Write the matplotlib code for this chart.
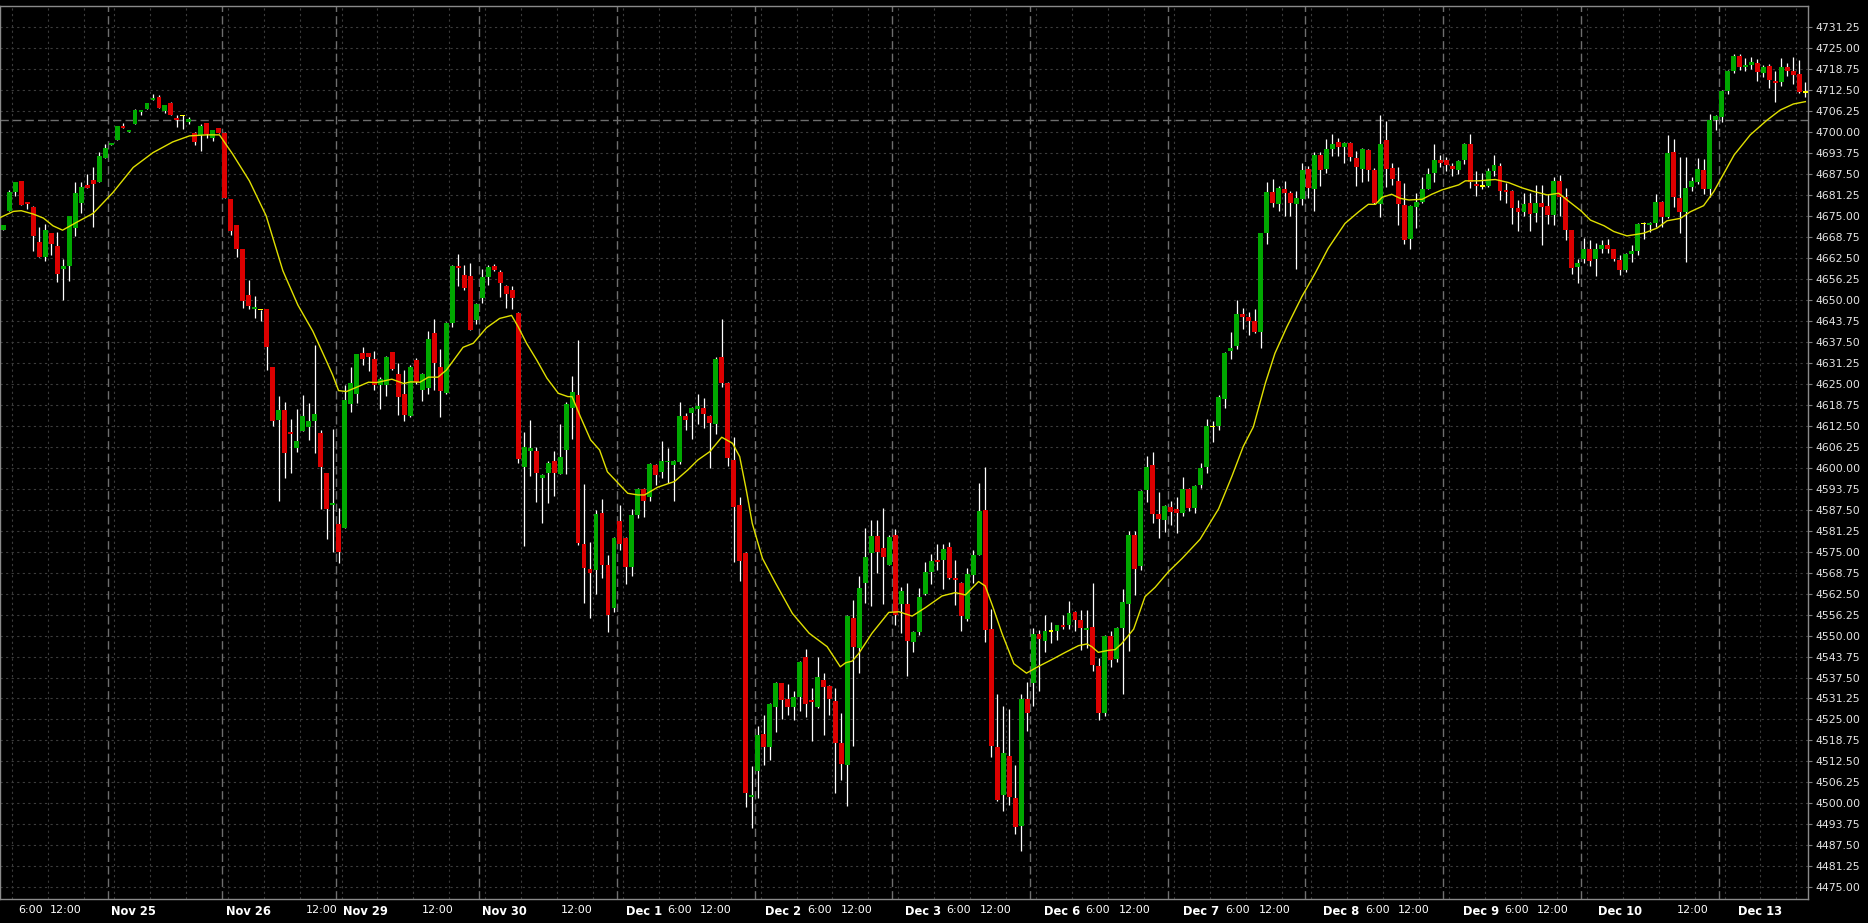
import matplotlib
matplotlib.use("Agg")
import matplotlib.pyplot as plt
from matplotlib.ticker import FormatStrFormatter
import numpy as np

# hourly OHLC bars, Nov 24 -> Dec 13
opens = [
    4670.9, 4676.4, 4682.3, 4685.5, 4679.3, 4677.8, 4667.4, 4662.9, 4670.0, 4666.2,
    4659.1, 4660.0, 4671.3, 4678.8, 4684.3, 4685.8, 4685.2, 4692.4, 4696.3, 4697.7,
    4701.8, 4700.1, 4702.5, 4706.1, 4707.0, 4709.6, 4710.6, 4706.4, 4708.7, 4704.3,
    4704.7, 4703.1, 4699.8, 4699.2, 4702.8, 4698.3, 4701.3, 4699.8, 4680.2, 4672.4,
    4665.3, 4651.6, 4647.4, 4646.9, 4647.3, 4630.0, 4614.2, 4617.2, 4610.7, 4606.0,
    4611.1, 4612.0, 4614.0, 4610.4, 4598.5, 4589.0, 4583.3, 4582.1, 4619.1, 4622.0,
    4634.1, 4634.1, 4632.3, 4624.8, 4624.6, 4634.4, 4627.9, 4621.9, 4615.5, 4632.1,
    4623.2, 4623.9, 4640.2, 4630.0, 4622.4, 4643.1, 4660.1, 4657.4, 4657.1, 4644.1,
    4650.7, 4656.8, 4660.1, 4658.3, 4654.2, 4653.0, 4646.1, 4600.3, 4605.1, 4605.0,
    4597.1, 4598.4, 4602.0, 4598.2, 4605.4, 4617.9, 4621.7, 4577.3, 4569.7, 4569.6,
    4586.5, 4571.0, 4558.3, 4584.0, 4579.1, 4570.5, 4585.9, 4593.7, 4591.2, 4600.8,
    4598.6, 4601.6, 4600.9, 4601.7, 4615.4, 4616.4, 4617.6, 4617.8, 4615.4, 4613.1,
    4632.9, 4625.2, 4602.3, 4588.8, 4574.6, 4502.0, 4509.7, 4520.7, 4516.9, 4528.8,
    4535.9, 4531.1, 4528.8, 4531.8, 4543.6, 4530.8, 4528.8, 4536.8, 4535.0, 4530.5,
    4517.9, 4511.5, 4555.2, 4546.4, 4565.8, 4574.7, 4579.8, 4576.1, 4571.1, 4580.0,
    4559.4, 4559.4, 4548.2, 4551.2, 4562.5, 4568.8, 4572.5, 4572.5, 4576.4, 4567.2,
    4565.6, 4555.0, 4568.0, 4574.1, 4587.4, 4551.9, 4516.9, 4502.6, 4514.0, 4501.7,
    4493.4, 4531.1, 4535.9, 4550.5, 4548.5, 4551.1, 4551.3, 4553.2, 4553.2, 4557.0,
    4554.5, 4551.8, 4552.7, 4540.9, 4526.8, 4549.8, 4543.0, 4552.2, 4559.3, 4580.0,
    4570.7, 4593.5, 4600.7, 4586.1, 4584.3, 4588.4, 4587.6, 4586.6, 4593.8, 4588.0,
    4594.9, 4600.3, 4612.0, 4612.3, 4620.5, 4634.8, 4636.3, 4645.9, 4644.8, 4643.7,
    4640.6, 4670.1, 4682.1, 4678.5, 4683.0, 4681.8, 4678.7, 4680.0, 4688.9, 4683.2,
    4693.2, 4688.9, 4695.1, 4697.1, 4695.7, 4696.8, 4692.2, 4689.1, 4694.6, 4688.7,
    4678.5, 4697.6, 4689.2, 4685.4, 4678.2, 4668.1, 4677.8, 4679.3, 4683.2, 4687.9,
    4691.7, 4691.7, 4689.9, 4688.7, 4691.7, 4696.4, 4684.6, 4683.8, 4684.0, 4688.5,
    4689.9, 4682.8, 4682.5, 4677.5, 4676.3, 4678.8, 4675.9, 4679.0, 4678.1, 4675.3,
    4685.5, 4680.8, 4670.9, 4659.8, 4662.2, 4665.1, 4662.1, 4665.2, 4666.4, 4665.1,
    4662.0, 4659.0, 4663.8, 4664.7, 4672.5, 4672.4, 4673.0, 4679.2, 4674.8, 4694.0,
    4680.4, 4676.3, 4683.6, 4685.2, 4688.8, 4683.2, 4703.6, 4704.5, 4712.3, 4718.3,
    4722.8, 4719.5, 4720.1, 4720.6, 4717.7, 4719.7, 4715.2, 4715.0, 4719.3, 4718.2,
    4717.3, 4711.7,
]
highs = [
    4672.4, 4682.7, 4685.2, 4685.5, 4679.3, 4678.1, 4671.8, 4672.6, 4670.0, 4670.4,
    4662.2, 4675.1, 4685.2, 4685.2, 4687.5, 4689.7, 4694.0, 4696.5, 4696.8, 4701.9,
    4702.6, 4700.7, 4707.0, 4706.6, 4708.7, 4711.4, 4711.0, 4708.1, 4709.0, 4705.2,
    4705.0, 4704.4, 4700.1, 4702.5, 4702.8, 4700.7, 4701.3, 4700.1, 4680.2, 4672.4,
    4665.3, 4656.1, 4651.3, 4646.9, 4647.3, 4630.0, 4621.4, 4619.6, 4614.5, 4617.5,
    4621.7, 4619.3, 4636.6, 4611.3, 4598.5, 4611.6, 4588.0, 4624.7, 4630.0, 4634.0,
    4636.0, 4634.2, 4634.8, 4627.0, 4633.3, 4634.6, 4631.1, 4629.0, 4630.5, 4632.6,
    4628.2, 4640.8, 4644.3, 4635.4, 4643.5, 4660.5, 4663.7, 4660.4, 4660.9, 4649.0,
    4659.2, 4660.4, 4660.7, 4658.8, 4654.5, 4654.2, 4646.4, 4610.6, 4614.2, 4606.3,
    4598.0, 4602.0, 4604.9, 4613.1, 4619.5, 4627.3, 4638.1, 4595.2, 4577.9, 4587.4,
    4590.8, 4574.0, 4579.5, 4588.8, 4579.5, 4587.7, 4594.0, 4594.0, 4601.3, 4601.0,
    4608.0, 4605.9, 4602.2, 4619.5, 4616.2, 4618.0, 4622.0, 4620.8, 4615.6, 4633.0,
    4644.4, 4625.5, 4609.1, 4591.2, 4575.0, 4511.2, 4523.0, 4526.3, 4530.0, 4536.3,
    4536.0, 4535.6, 4533.6, 4542.5, 4546.1, 4534.4, 4543.7, 4538.8, 4535.2, 4534.4,
    4526.8, 4556.0, 4560.6, 4567.6, 4582.1, 4584.4, 4584.4, 4588.0, 4580.0, 4581.7,
    4564.4, 4565.6, 4551.5, 4564.1, 4572.0, 4574.3, 4577.2, 4577.3, 4577.9, 4572.5,
    4566.0, 4570.0, 4575.6, 4595.4, 4600.1, 4558.0, 4532.7, 4529.1, 4528.2, 4511.4,
    4532.7, 4536.1, 4552.2, 4551.6, 4556.1, 4554.1, 4553.2, 4556.1, 4560.4, 4557.3,
    4557.6, 4557.6, 4565.6, 4543.3, 4550.2, 4551.5, 4552.5, 4563.8, 4581.2, 4581.2,
    4593.5, 4603.5, 4604.7, 4592.9, 4589.0, 4590.1, 4591.2, 4597.3, 4594.0, 4595.0,
    4601.5, 4614.4, 4614.0, 4621.8, 4634.5, 4640.5, 4649.9, 4647.7, 4646.5, 4647.2,
    4670.0, 4685.2, 4686.0, 4684.0, 4685.5, 4682.5, 4682.5, 4690.9, 4689.9, 4694.0,
    4694.2, 4698.0, 4699.5, 4698.2, 4697.2, 4697.0, 4694.4, 4695.2, 4695.0, 4689.2,
    4705.1, 4703.3, 4690.7, 4689.5, 4684.8, 4678.2, 4681.8, 4686.5, 4689.2, 4696.5,
    4693.2, 4692.5, 4690.7, 4691.7, 4696.9, 4699.5, 4688.5, 4687.7, 4689.4, 4693.2,
    4690.7, 4684.9, 4682.8, 4679.8, 4681.8, 4681.8, 4684.2, 4684.3, 4681.5, 4686.7,
    4687.2, 4683.5, 4671.0, 4662.1, 4668.6, 4667.9, 4667.1, 4667.9, 4668.1, 4665.2,
    4663.4, 4664.0, 4666.4, 4673.0, 4673.3, 4673.3, 4681.6, 4679.5, 4699.2, 4698.0,
    4692.7, 4692.7, 4686.7, 4692.2, 4691.9, 4705.4, 4705.0, 4712.5, 4718.5, 4723.3,
    4723.3, 4722.1, 4722.3, 4721.9, 4720.1, 4720.3, 4718.3, 4722.2, 4720.7, 4722.5,
    4721.5, 4715.0,
]
lows = [
    4670.9, 4676.4, 4681.1, 4678.4, 4677.1, 4664.7, 4662.9, 4661.7, 4663.5, 4655.3,
    4650.1, 4655.8, 4669.0, 4675.8, 4683.4, 4671.6, 4685.2, 4692.4, 4696.3, 4697.7,
    4701.3, 4700.1, 4702.5, 4705.2, 4707.0, 4709.6, 4707.2, 4705.8, 4705.2, 4701.6,
    4701.0, 4702.5, 4696.2, 4694.4, 4698.3, 4697.4, 4699.8, 4680.5, 4669.5, 4662.9,
    4647.7, 4647.4, 4644.5, 4643.6, 4629.1, 4612.5, 4590.1, 4597.1, 4598.5, 4604.8,
    4611.0, 4608.3, 4604.4, 4587.7, 4578.8, 4574.9, 4571.7, 4582.1, 4616.7, 4619.3,
    4630.6, 4628.9, 4623.2, 4617.6, 4621.4, 4629.0, 4615.7, 4614.0, 4615.0, 4625.0,
    4620.0, 4622.0, 4623.1, 4615.2, 4622.0, 4642.0, 4654.3, 4653.0, 4641.0, 4642.8,
    4649.2, 4654.5, 4658.5, 4651.0, 4647.5, 4647.4, 4601.3, 4576.8, 4597.6, 4589.9,
    4583.4, 4589.5, 4591.7, 4598.0, 4598.0, 4608.7, 4577.0, 4559.8, 4555.3, 4562.3,
    4567.1, 4551.2, 4557.0, 4575.5, 4565.5, 4567.6, 4585.0, 4585.4, 4590.0, 4594.8,
    4597.0, 4595.4, 4590.2, 4601.0, 4611.3, 4608.6, 4613.1, 4611.8, 4600.0, 4610.0,
    4624.0, 4600.5, 4572.0, 4566.3, 4499.0, 4492.6, 4501.5, 4511.4, 4512.9, 4521.4,
    4525.1, 4526.3, 4524.8, 4527.5, 4525.6, 4518.7, 4528.3, 4520.4, 4526.3, 4503.0,
    4507.0, 4499.2, 4517.2, 4538.9, 4559.8, 4558.9, 4568.5, 4559.5, 4571.0, 4553.1,
    4550.9, 4537.9, 4545.2, 4550.3, 4562.0, 4565.4, 4569.5, 4563.9, 4567.0, 4559.2,
    4551.5, 4554.3, 4565.6, 4574.0, 4548.2, 4513.7, 4500.6, 4497.7, 4499.4, 4490.8,
    4485.7, 4521.7, 4529.1, 4533.6, 4545.0, 4547.9, 4548.7, 4552.0, 4551.9, 4551.5,
    4545.8, 4546.2, 4539.3, 4524.7, 4526.0, 4540.5, 4542.2, 4532.7, 4545.3, 4562.1,
    4569.5, 4589.8, 4583.6, 4579.0, 4580.9, 4583.0, 4580.7, 4585.7, 4587.2, 4586.6,
    4594.1, 4598.5, 4607.6, 4611.4, 4617.7, 4632.3, 4635.5, 4641.4, 4639.7, 4640.3,
    4635.8, 4666.6, 4677.6, 4676.6, 4675.1, 4675.1, 4659.2, 4678.3, 4680.3, 4676.5,
    4684.0, 4687.9, 4692.9, 4692.9, 4690.9, 4691.4, 4684.1, 4685.3, 4685.5, 4678.6,
    4674.8, 4683.8, 4684.3, 4672.2, 4666.6, 4665.1, 4671.5, 4678.8, 4683.0, 4685.3,
    4689.7, 4688.4, 4686.9, 4687.5, 4690.5, 4683.3, 4681.0, 4683.0, 4683.6, 4686.9,
    4679.8, 4679.0, 4672.5, 4670.6, 4675.1, 4670.6, 4673.2, 4666.5, 4672.5, 4672.3,
    4675.0, 4667.9, 4657.6, 4655.2, 4661.1, 4660.2, 4657.0, 4663.9, 4663.9, 4661.6,
    4657.3, 4658.4, 4661.2, 4663.4, 4668.2, 4670.2, 4671.8, 4671.8, 4674.5, 4677.8,
    4669.9, 4661.4, 4682.5, 4684.5, 4681.5, 4680.8, 4700.6, 4703.0, 4711.3, 4717.5,
    4718.5, 4718.1, 4718.9, 4715.3, 4716.5, 4713.2, 4709.1, 4713.9, 4716.7, 4714.5,
    4711.6, 4710.4,
]
closes = [
    4672.4, 4682.3, 4685.2, 4678.4, 4678.7, 4669.2, 4662.9, 4670.9, 4666.8, 4657.6,
    4660.2, 4675.1, 4682.0, 4683.7, 4683.4, 4684.7, 4693.0, 4695.3, 4696.8, 4701.9,
    4701.3, 4700.7, 4706.6, 4706.6, 4708.7, 4710.2, 4707.2, 4708.1, 4705.2, 4703.7,
    4704.7, 4704.0, 4697.1, 4701.9, 4699.5, 4700.7, 4699.8, 4680.5, 4670.6, 4665.3,
    4649.8, 4648.3, 4648.0, 4646.9, 4636.1, 4613.8, 4617.2, 4604.5, 4610.2, 4608.0,
    4615.4, 4614.0, 4616.0, 4600.3, 4587.7, 4589.5, 4574.9, 4620.2, 4625.2, 4633.9,
    4632.5, 4632.9, 4624.6, 4626.4, 4632.9, 4629.3, 4621.0, 4615.6, 4630.0, 4625.7,
    4627.9, 4638.4, 4631.3, 4623.0, 4643.1, 4660.1, 4659.6, 4653.7, 4641.2, 4648.8,
    4656.8, 4659.8, 4659.0, 4655.2, 4651.9, 4650.7, 4602.7, 4606.3, 4605.9, 4598.3,
    4597.9, 4601.4, 4598.4, 4603.2, 4619.0, 4622.6, 4577.7, 4570.2, 4568.7, 4586.2,
    4571.0, 4556.2, 4579.1, 4577.4, 4570.5, 4585.9, 4593.7, 4590.2, 4601.1, 4597.7,
    4602.0, 4602.1, 4602.0, 4615.4, 4614.2, 4617.8, 4618.4, 4616.1, 4613.3, 4632.5,
    4625.2, 4603.0, 4588.4, 4572.3, 4503.2, 4502.5, 4520.4, 4516.9, 4529.6, 4535.9,
    4530.9, 4528.8, 4531.7, 4542.1, 4529.5, 4530.3, 4537.7, 4534.6, 4531.2, 4517.9,
    4511.8, 4555.8, 4546.7, 4564.2, 4573.4, 4579.8, 4575.0, 4573.5, 4579.4, 4556.0,
    4563.4, 4548.5, 4551.1, 4561.5, 4568.8, 4572.2, 4572.0, 4575.8, 4567.3, 4566.7,
    4555.9, 4568.3, 4574.0, 4587.1, 4551.8, 4517.1, 4501.1, 4515.0, 4501.9, 4493.1,
    4531.1, 4527.0, 4550.5, 4549.0, 4551.3, 4551.1, 4553.0, 4552.7, 4556.8, 4554.5,
    4552.2, 4552.2, 4541.3, 4526.8, 4549.8, 4542.8, 4552.2, 4560.1, 4580.0, 4569.9,
    4593.1, 4600.3, 4586.1, 4584.6, 4588.6, 4586.9, 4586.4, 4593.7, 4588.0, 4594.6,
    4599.8, 4612.3, 4612.0, 4621.1, 4634.3, 4635.7, 4645.9, 4645.0, 4643.7, 4640.6,
    4669.9, 4682.1, 4678.8, 4683.3, 4682.0, 4679.0, 4680.3, 4688.7, 4683.3, 4693.2,
    4688.6, 4694.9, 4696.5, 4695.7, 4696.8, 4692.7, 4689.7, 4694.9, 4688.8, 4678.8,
    4696.5, 4688.9, 4686.0, 4678.7, 4667.8, 4678.0, 4679.2, 4683.0, 4687.5, 4691.7,
    4690.7, 4690.1, 4688.9, 4691.4, 4696.5, 4685.1, 4684.1, 4683.8, 4688.4, 4690.1,
    4682.6, 4682.3, 4677.5, 4676.3, 4678.5, 4675.7, 4679.0, 4677.8, 4675.3, 4685.5,
    4680.8, 4670.9, 4659.6, 4661.0, 4665.2, 4661.7, 4665.1, 4666.4, 4665.1, 4662.1,
    4659.0, 4663.8, 4664.7, 4672.7, 4672.5, 4673.0, 4679.2, 4674.8, 4693.9, 4680.8,
    4676.3, 4683.4, 4685.5, 4689.0, 4683.2, 4703.6, 4704.8, 4712.3, 4718.2, 4722.8,
    4719.3, 4720.1, 4720.9, 4718.0, 4719.3, 4715.6, 4714.6, 4719.3, 4718.3, 4717.1,
    4712.1, 4711.7,
]

# moving average line, read at bar positions
ma_pos = [
    -0.6, 1.7, 3.0, 5.0, 6.7, 8.3, 9.9, 12.2, 15.0, 18.3, 21.7, 25.0, 28.3, 31.1,
    33.9, 36.1, 38.3, 41.1, 43.9, 46.7, 49.2, 51.7, 53.9, 55.0, 56.0, 57.3, 59.0,
    61.0, 62.4, 64.9, 66.9, 68.0, 69.6, 71.0, 72.6, 74.0, 76.8, 78.5, 80.7, 82.9,
    84.9, 86.0, 87.4, 89.1, 90.8, 92.7, 94.3, 95.0, 96.4, 98.1, 99.6, 100.9, 102.7,
    104.3, 106.0, 107.1, 109.3, 112.1, 114.3, 116.0, 118.0, 120.0, 121.8, 123.0,
    124.1, 125.1, 126.8, 129.0, 131.8, 134.6, 137.6, 139.8, 140.7, 141.8, 142.9,
    145.1, 147.9, 149.6, 151.8, 154.0, 156.8, 159.0, 160.7, 162.9, 164.0, 165.2,
    166.8, 168.8, 170.9, 172.9, 175.1, 177.4, 179.6, 181.0, 181.8, 182.9, 184.6,
    185.7, 186.8, 188.8, 190.7, 192.4, 194.6, 196.9, 199.9, 203.0, 205.2, 207.1,
    208.8, 210.8, 212.4, 214.4, 216.9, 219.1, 221.3, 224.1, 226.4, 228.0, 229.2,
    230.3, 231.9, 233.3, 234.8, 237.0, 238.6, 240.3, 243.1, 244.2, 246.4, 249.2,
    251.4, 253.7, 255.7, 257.9, 259.8, 261.2, 263.5, 265.1, 267.4, 269.0, 271.2,
    274.0, 276.2, 277.9, 280.1, 281.8, 284.0, 285.7, 289.1, 291.8, 294.6, 296.8,
    299.0, 301.0,
]
ma_vals = [
    4674.5, 4676.4, 4676.6, 4675.6, 4674.4, 4672.1, 4670.8, 4673.1, 4675.8, 4682.0,
    4689.5, 4693.9, 4697.1, 4698.9, 4699.2, 4699.2, 4693.5, 4685.5, 4675.1, 4658.7,
    4648.5, 4640.7, 4632.1, 4627.7, 4623.0, 4622.7, 4624.0, 4625.5, 4625.4, 4626.4,
    4625.1, 4625.6, 4625.5, 4627.0, 4627.0, 4629.1, 4635.9, 4637.1, 4641.7, 4644.5,
    4645.4, 4642.0, 4637.1, 4632.1, 4626.7, 4622.2, 4621.2, 4621.2, 4615.2, 4608.3,
    4605.3, 4598.8, 4595.4, 4592.4, 4591.9, 4591.9, 4594.2, 4595.9, 4599.3, 4602.3,
    4604.8, 4609.1, 4607.3, 4603.3, 4593.4, 4583.4, 4573.0, 4565.6, 4556.6, 4550.7,
    4546.7, 4540.7, 4541.9, 4542.4, 4544.7, 4550.7, 4556.9, 4557.1, 4555.8, 4558.3,
    4561.8, 4562.8, 4562.1, 4566.1, 4564.8, 4559.0, 4550.7, 4541.6, 4538.8, 4540.8,
    4542.8, 4545.0, 4547.0, 4547.5, 4546.7, 4545.0, 4545.6, 4545.8, 4547.6, 4551.9,
    4561.6, 4564.4, 4569.0, 4573.0, 4578.7, 4587.8, 4597.4, 4606.3, 4612.2, 4625.2,
    4634.1, 4642.0, 4651.0, 4657.9, 4665.4, 4672.8, 4676.3, 4678.5, 4678.5, 4680.6,
    4681.5, 4680.3, 4679.8, 4680.0, 4681.5, 4682.8, 4684.3, 4685.5, 4685.5, 4685.9,
    4685.0, 4683.4, 4682.3, 4681.3, 4681.8, 4679.8, 4676.6, 4673.8, 4672.1, 4670.4,
    4669.1, 4669.9, 4671.4, 4673.6, 4674.3, 4676.3, 4678.1, 4682.3, 4693.2, 4699.2,
    4703.6, 4706.6, 4708.4, 4709.1,
]

# first bar of each session (Nov 24 session began before the visible range)
session_starts = [-5, 18, 37, 56, 80, 103, 126, 149, 172, 195, 218, 241, 264, 287]

tick_pos = [4.5, 10.5, 21.7, 40.9, 53.2, 60.5, 72.5, 83.7, 95.8, 107.0, 113.0, 119.0,
            130.3, 136.4, 142.5, 153.6, 159.6, 165.7, 176.8, 182.8, 189.0, 200.1,
            206.2, 212.4, 223.4, 229.6, 235.5, 246.8, 252.8, 258.8, 270.0, 282.1, 293.4]
tick_labels = ["6:00", "12:00", "Nov 25", "Nov 26", "12:00", "Nov 29", "12:00",
               "Nov 30", "12:00", "Dec 1", "6:00", "12:00", "Dec 2", "6:00", "12:00",
               "Dec 3", "6:00", "12:00", "Dec 6", "6:00", "12:00", "Dec 7", "6:00",
               "12:00", "Dec 8", "6:00", "12:00", "Dec 9", "6:00", "12:00", "Dec 10",
               "12:00", "Dec 13"]

ref_level = 4703.6

GREEN = "#00a800"
RED = "#dc0000"
DOJI = "#ffff00"

fig = plt.figure(figsize=(18.68, 9.23), dpi=100, facecolor="black")
ax = fig.add_axes([0, 1 - 899 / 923, 1808 / 1868, 893 / 923])
ax.set_facecolor("black")

o = np.array(opens)
h = np.array(highs)
l = np.array(lows)
c = np.array(closes)
x = np.arange(len(c))

cols = [GREEN if cc > oo else (RED if cc < oo else DOJI) for oo, cc in zip(o, c)]
bottoms = np.minimum(o, c)
heights = np.maximum(np.abs(c - o), 0.45)

# wicks then bodies
ax.vlines(x, l, h, color="white", linewidth=0.9, zorder=3)
ax.bar(x, heights, bottom=bottoms, width=0.82, color=cols, linewidth=0, zorder=4)

# moving average
ax.plot(ma_pos, ma_vals, color="#e0e000", linewidth=1.0, zorder=5)

# session separators and reference level
sep_style = dict(color="#6e6e6e", linewidth=1.0, linestyle=(0, (6, 3)), zorder=1)
for s in session_starts[1:]:
    ax.axvline(s - 0.5, **sep_style)
ax.axhline(ref_level, **sep_style)

# dotted vertical grid every 6 bars inside each session
minor_x = []
ends = session_starts[1:] + [len(c) + 1]
for s, e in zip(session_starts, ends):
    g = s + 0.5
    while g < e - 0.9:
        minor_x.append(g)
        g += 6
ax.set_xticks(minor_x, minor=True)
ax.grid(axis="x", which="minor", color="#3c3c3c", linewidth=0.8, linestyle=(0, (2, 3)), zorder=0)
ax.set_yticks(np.arange(4475, 4731.3, 6.25))
ax.grid(axis="y", which="major", color="#3c3c3c", linewidth=0.8, linestyle=(0, (2, 3)), zorder=0)
ax.set_axisbelow(True)

ax.set_xlim(-0.551, 301.44)
ax.set_ylim(4471.5, 4737.6)

ax.yaxis.tick_right()
ax.yaxis.set_major_formatter(FormatStrFormatter("%.2f"))
ax.tick_params(axis="y", labelcolor="#e6e6e6", color="#808080", labelsize=7.8,
               length=3, width=0.8, pad=2)

ax.set_xticks(tick_pos)
ax.set_xticklabels(tick_labels)
ax.tick_params(axis="x", which="both", length=0, colors="white", labelsize=8, pad=4)
for t, lab in zip(ax.get_xticklabels(), tick_labels):
    if not lab[0].isdigit():
        t.set_fontweight("bold")
        t.set_fontsize(8.3)

for side in ["top", "right", "bottom", "left"]:
    ax.spines[side].set_color("#8a8a8a")
    ax.spines[side].set_linewidth(1.0)

fig.savefig("out.png", dpi=100, facecolor="black")
